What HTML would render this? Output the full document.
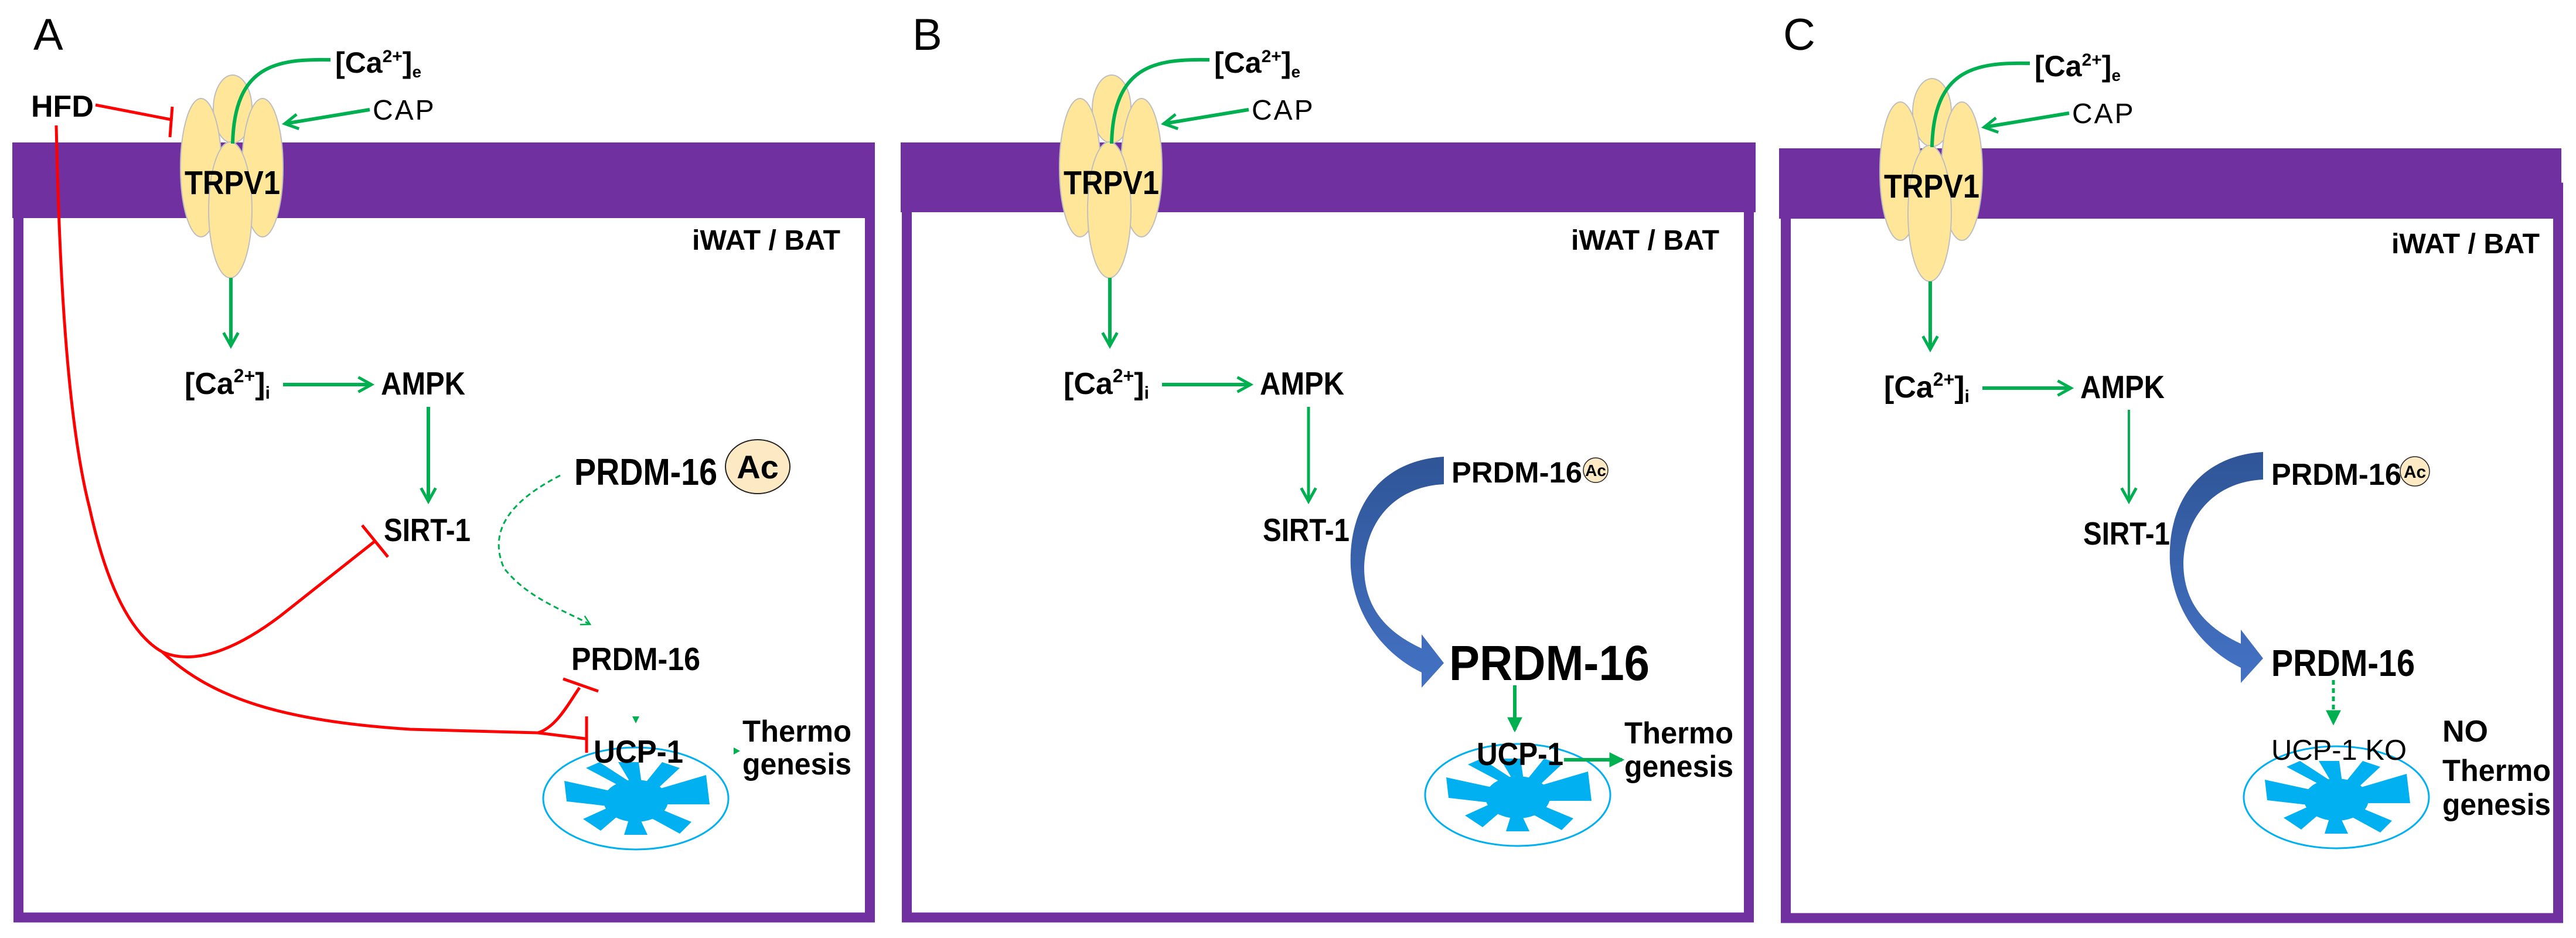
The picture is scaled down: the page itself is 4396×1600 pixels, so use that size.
<!DOCTYPE html>
<html><head><meta charset="utf-8"><style>
html,body{margin:0;padding:0;background:#fff;}
svg{display:block;}
text{font-family:"Liberation Sans",Arial,sans-serif;}
</style></head><body>
<svg width="4396" height="1600" viewBox="0 0 4396 1600" xmlns="http://www.w3.org/2000/svg">
<defs>
<marker id="ga" viewBox="0 0 12 12" refX="10" refY="6" markerUnits="userSpaceOnUse" markerWidth="30" markerHeight="30" orient="auto">
<path d="M1,1 L10,6 L1,11" fill="none" stroke="#00b050" stroke-width="2"/>
</marker>
<marker id="gas" viewBox="0 0 12 12" refX="10" refY="6" markerUnits="userSpaceOnUse" markerWidth="20" markerHeight="20" orient="auto">
<path d="M1,1 L10,6 L1,11" fill="none" stroke="#00b050" stroke-width="1.5"/>
</marker>
<marker id="gt" viewBox="0 0 12 12" refX="10" refY="6" markerUnits="userSpaceOnUse" markerWidth="26" markerHeight="26" orient="auto">
<path d="M0,0 L12,6 L0,12 Z" fill="#00b050"/>
</marker>
<linearGradient id="bl" x1="0" y1="0" x2="0" y2="1">
<stop offset="0" stop-color="#2f5597"/><stop offset="1" stop-color="#4472c4"/>
</linearGradient>
<g id="mito">
<ellipse cx="0" cy="0" rx="158" ry="87" fill="#fff" stroke="#00b0f0" stroke-width="3"/>
<ellipse cx="0" cy="4" rx="55" ry="36" fill="#00b0f0"/>
<g fill="#00b0f0">
<polygon points="-30,-10 -122,-30 -118,5 -30,15"/>
<polygon points="-25,-20 -85,-52 -62,-62 -5,-25"/>
<polygon points="-8,-25 -30,-62 5,-62 10,-25"/>
<polygon points="15,-25 45,-62 75,-52 30,-10"/>
<polygon points="35,-15 120,-40 126,10 35,10"/>
<polygon points="35,15 95,40 75,60 20,30"/>
<polygon points="5,30 20,62 -20,62 -10,30"/>
<polygon points="-25,25 -60,55 -90,35 -35,10"/>
</g>
</g>
<g id="common">
<ellipse cx="397" cy="186" rx="33" ry="58" fill="#ffe699" stroke="#bfbfbf" stroke-width="2"/>
<ellipse cx="343" cy="286" rx="35" ry="118" fill="#ffe699" stroke="#bfbfbf" stroke-width="2"/>
<ellipse cx="448" cy="286" rx="35" ry="118" fill="#ffe699" stroke="#bfbfbf" stroke-width="2"/>
<ellipse cx="393" cy="358" rx="37" ry="116" fill="#ffe699" stroke="#bfbfbf" stroke-width="2"/>
<path d="M564,102 C470,100 400,112 397,245" fill="none" stroke="#00b050" stroke-width="6"/>
<text x="315" y="331" font-size="57" font-weight="bold" textLength="163" lengthAdjust="spacingAndGlyphs">TRPV1</text>
<text x="572" y="124" font-size="50" font-weight="bold">[Ca<tspan font-size="30" dy="-18">2+</tspan><tspan dy="18">]</tspan><tspan font-size="28" dy="8">e</tspan></text>
<line x1="631" y1="187" x2="486" y2="211" stroke="#00b050" stroke-width="6" marker-end="url(#ga)"/>
<text x="636" y="204" font-size="48" letter-spacing="3">CAP</text>
<line x1="394" y1="474" x2="394" y2="590" stroke="#00b050" stroke-width="6" marker-end="url(#ga)"/>
<text x="315" y="672" font-size="52" font-weight="bold">[Ca<tspan font-size="32" dy="-20">2+</tspan><tspan dy="20">]</tspan><tspan font-size="30" dy="8">i</tspan></text>
<line x1="483" y1="656" x2="634" y2="656" stroke="#00b050" stroke-width="6" marker-end="url(#ga)"/>
<text x="650" y="673" font-size="55" font-weight="bold" textLength="144" lengthAdjust="spacingAndGlyphs">AMPK</text>
<text x="1181" y="426" font-size="48" font-weight="bold" textLength="253" lengthAdjust="spacingAndGlyphs">iWAT / BAT</text>
<text x="655" y="923" font-size="55" font-weight="bold" textLength="148" lengthAdjust="spacingAndGlyphs">SIRT-1</text>
</g>
<path id="barrow" d="M2464,779 C2360,785 2300,860 2305,968 C2312,1060 2370,1120 2426,1147 L2426,1173 L2464,1131 L2426,1082 L2426,1106 C2370,1080 2328,1040 2328,968 C2330,890 2380,830 2464,826 Z"/>
</defs>

<!-- Panel A -->
<rect x="31.5" y="300" width="1453" height="1265" fill="none" stroke="#7030a0" stroke-width="17"/>
<rect x="21" y="243" width="1472" height="129" fill="#7030a0"/>
<text x="57" y="85" font-size="76">A</text>
<use href="#common"/>
<line x1="731" y1="694" x2="731" y2="855" stroke="#00b050" stroke-width="6" marker-end="url(#ga)"/>
<text x="53" y="199" font-size="52" font-weight="bold">HFD</text>
<g fill="none" stroke="#ff0000" stroke-width="5">
<line x1="163" y1="179" x2="292" y2="204"/>
<line x1="294" y1="182" x2="290" y2="234"/>
<path d="M96,214 C100,400 110,700 153,867 C180,990 220,1080 277,1112"/>
<path d="M277,1112 C330,1135 400,1110 478,1051 L640,923"/>
<line x1="618" y1="896" x2="662" y2="950"/>
<path d="M277,1112 C360,1190 480,1230 700,1244 L918,1250 L999,1260"/>
<line x1="1001" y1="1222" x2="1001" y2="1284"/>
<path d="M918,1250 C950,1240 970,1200 989,1173"/>
<line x1="961" y1="1158" x2="1021" y2="1179"/>
</g>
<text x="980" y="827" font-size="64" font-weight="bold" textLength="244" lengthAdjust="spacingAndGlyphs">PRDM-16</text>
<ellipse cx="1293" cy="796" rx="55" ry="46" fill="#fde9c4" stroke="#222" stroke-width="2"/>
<text x="1293" y="816" font-size="56" font-weight="bold" text-anchor="middle">Ac</text>
<path d="M956,811 C880,850 830,900 860,969 C900,1020 960,1040 1007,1065" fill="none" stroke="#00b050" stroke-width="3" stroke-dasharray="9 6" marker-end="url(#gas)"/>
<text x="975" y="1143" font-size="55" font-weight="bold" textLength="220" lengthAdjust="spacingAndGlyphs">PRDM-16</text>
<use href="#mito" x="1085" y="1362"/>
<polygon points="1079,1222 1091,1222 1085,1234" fill="#00b050"/>
<polygon points="1252,1275 1263,1281 1252,1287" fill="#00b050"/>
<text x="1013" y="1301" font-size="55" font-weight="bold" textLength="153" lengthAdjust="spacingAndGlyphs">UCP-1</text>
<text x="1267" y="1265" font-size="52" font-weight="bold" textLength="186" lengthAdjust="spacingAndGlyphs">Thermo</text>
<text x="1267" y="1321" font-size="52" font-weight="bold" textLength="186" lengthAdjust="spacingAndGlyphs">genesis</text>

<!-- Panel B -->
<rect x="1547.5" y="300" width="1437" height="1265" fill="none" stroke="#7030a0" stroke-width="17"/>
<rect x="1537" y="243" width="1459" height="119" fill="#7030a0"/>
<text x="1557" y="85" font-size="76">B</text>
<use href="#common" x="1500"/>
<line x1="2233" y1="694" x2="2233" y2="855" stroke="#00b050" stroke-width="5" marker-end="url(#ga)"/>
<use href="#barrow" fill="url(#bl)"/>
<text x="2477" y="823" font-size="50" font-weight="bold" textLength="223" lengthAdjust="spacingAndGlyphs">PRDM-16</text>
<circle cx="2723" cy="802" r="21" fill="#fde9c4" stroke="#222" stroke-width="1.5"/>
<text x="2723" y="812" font-size="28" font-weight="bold" text-anchor="middle">Ac</text>
<text x="2473" y="1160" font-size="84" font-weight="bold" textLength="342" lengthAdjust="spacingAndGlyphs">PRDM-16</text>
<line x1="2585" y1="1169" x2="2585" y2="1245" stroke="#00b050" stroke-width="6" marker-end="url(#gt)"/>
<use href="#mito" x="2590" y="1356"/>
<text x="2520" y="1305" font-size="55" font-weight="bold" textLength="148" lengthAdjust="spacingAndGlyphs">UCP-1</text>
<line x1="2669" y1="1296" x2="2768" y2="1296" stroke="#00b050" stroke-width="6" marker-end="url(#gt)"/>
<text x="2772" y="1268" font-size="52" font-weight="bold" textLength="186" lengthAdjust="spacingAndGlyphs">Thermo</text>
<text x="2772" y="1325" font-size="52" font-weight="bold" textLength="186" lengthAdjust="spacingAndGlyphs">genesis</text>

<!-- Panel C -->
<rect x="3047.5" y="320" width="1318" height="1246" fill="none" stroke="#7030a0" stroke-width="17"/>
<rect x="3036" y="253" width="1335" height="120" fill="#7030a0"/>
<text x="3043" y="85" font-size="76">C</text>
<use href="#common" x="2900" y="6"/>
<line x1="3633" y1="699" x2="3633" y2="855" stroke="#00b050" stroke-width="4" marker-end="url(#ga)"/>
<use href="#barrow" fill="url(#bl)" x="1398" y="-8"/>
<text x="3876" y="827" font-size="52" font-weight="bold" textLength="222" lengthAdjust="spacingAndGlyphs">PRDM-16</text>
<circle cx="4121" cy="804" r="25" fill="#fde9c4" stroke="#222" stroke-width="1.5"/>
<text x="4121" y="815" font-size="30" font-weight="bold" text-anchor="middle">Ac</text>
<text x="3876" y="1153" font-size="64" font-weight="bold" textLength="245" lengthAdjust="spacingAndGlyphs">PRDM-16</text>
<line x1="3982" y1="1160" x2="3982" y2="1233" stroke="#00b050" stroke-width="5" stroke-dasharray="8 6" marker-end="url(#gt)"/>
<use href="#mito" x="3987" y="1360"/>
<text x="3876" y="1296" font-size="49" textLength="231" lengthAdjust="spacingAndGlyphs">UCP-1 KO</text>
<text x="4168" y="1265" font-size="52" font-weight="bold">NO</text>
<text x="4168" y="1332" font-size="52" font-weight="bold" textLength="185" lengthAdjust="spacingAndGlyphs">Thermo</text>
<text x="4168" y="1390" font-size="52" font-weight="bold" textLength="185" lengthAdjust="spacingAndGlyphs">genesis</text>
</svg>
</body></html>
